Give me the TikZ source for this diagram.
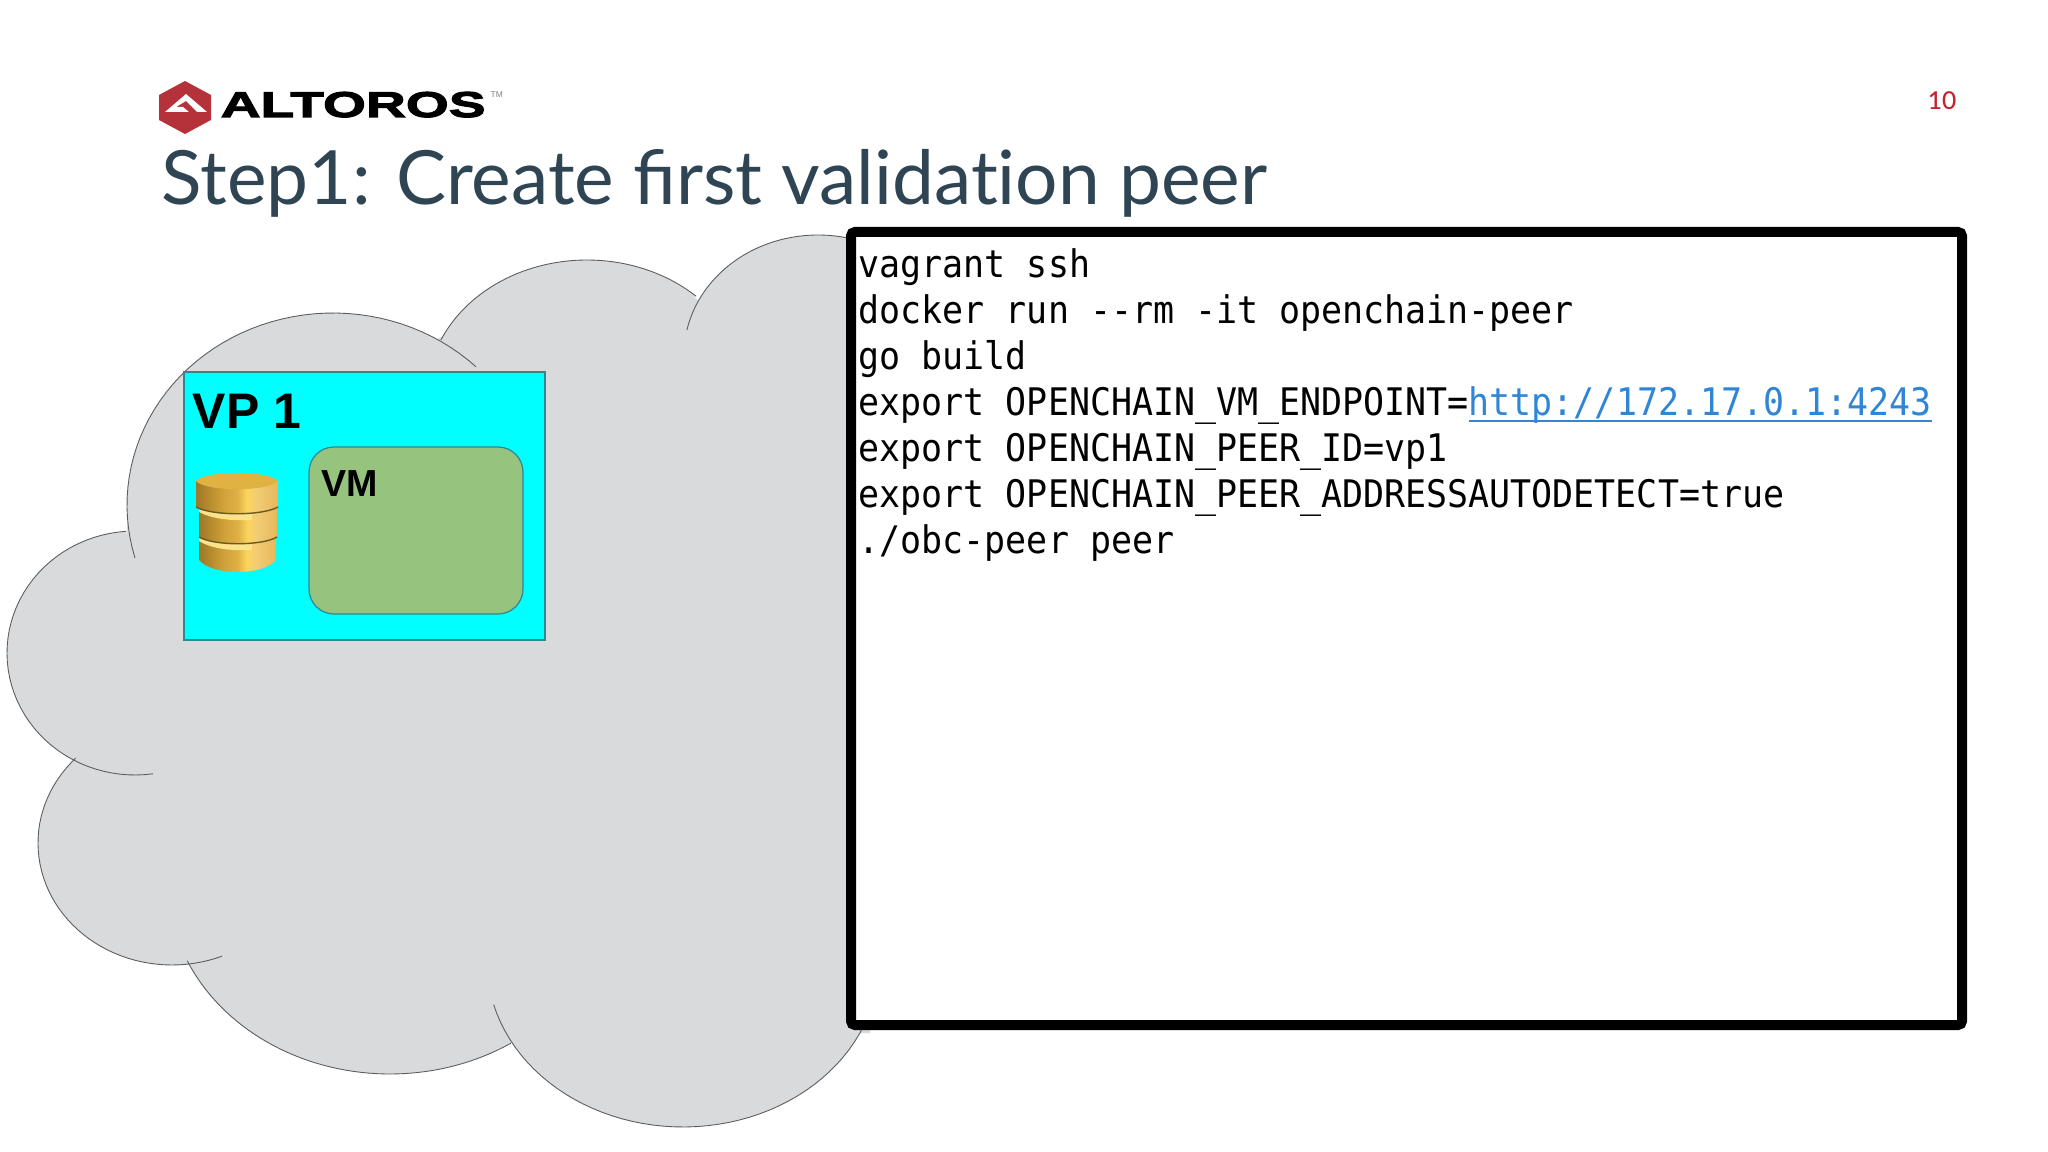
\documentclass[tikz,border=0pt]{standalone}
\usepackage{fontspec}
\usepackage{tikz}
\setmainfont{Liberation Sans}
\newfontfamily\titlefont{Lato}
\newfontfamily\pagefont{Lato Medium}
\newfontfamily\codefont[FakeStretch=0.92]{DejaVu Sans Mono}
\newfontfamily\logofont[FakeStretch=1.54,FakeBold=3]{Liberation Sans Bold}
\definecolor{cloudgray}{HTML}{D9DADB}
\definecolor{cloudedge}{HTML}{5A5C5E}
\definecolor{titleblue}{HTML}{2F4554}
\definecolor{logored}{HTML}{B5323A}
\definecolor{pagered}{HTML}{C8202F}
\definecolor{linkblue}{HTML}{2F86D6}
\definecolor{vpcyan}{HTML}{00FFFF}
\definecolor{vmgreen}{HTML}{96C47E}
\definecolor{boxedge}{HTML}{2E8793}
\definecolor{goldtop}{HTML}{E0B242}
\definecolor{goldlight}{HTML}{FBE38C}
\definecolor{goldline}{HTML}{6B5A20}
\pgfdeclarehorizontalshading{goldside}{100bp}{
	rgb(0bp)=(0.62,0.47,0.16);
	rgb(25bp)=(0.62,0.47,0.16);
	rgb(33bp)=(0.72,0.55,0.18);
	rgb(42bp)=(0.82,0.64,0.23);
	rgb(50bp)=(0.87,0.69,0.27);
	rgb(56bp)=(0.99,0.83,0.36);
	rgb(62bp)=(0.95,0.80,0.46);
	rgb(75bp)=(0.90,0.72,0.36);
	rgb(100bp)=(0.90,0.72,0.36)}
% centre x / centre y / radius x / radius y / first angle / last angle
\def\lobelist{818/355/134/120/192/290, 587/395/160/135/204/313, 333/505/206/192/314/164, 135/653/128/122/266/82, 172/843/134/122/224/68, 390/883/222/191/156/57, 683/962/196/165/165/10}
\tikzset{
	x=0.01cm, y=-0.01cm,
	codeline/.style={anchor=base west, inner sep=0pt, font=\codefont\fontsize{10.8pt}{12pt}\selectfont},
	goldtier/.style={shading=goldside}
}
\begin{document}
\begin{tikzpicture}
	\useasboundingbox (0,0) rectangle (2048,1152);
	\fill[white] (0,0) rectangle (2048,1152);
	% logo
	\fill[logored] (185,81) -- (211,95) -- (211,120) -- (185,134) -- (159,120) -- (159,95) -- cycle;
	\fill[white] (186,94) -- (207,112) -- (197,112) -- (186,101) -- (176,107) -- (183,107) -- (189,112) -- (165,112) -- cycle;
	\node[anchor=base west, inner sep=0pt, font=\logofont\fontsize{10.2pt}{12pt}\selectfont] (logotext) at (220,117) {ALTOROS};
	\node[anchor=base west, inner sep=0pt, font=\fontsize{2.4pt}{4pt}\selectfont, text=gray] (trademark) at (490,98) {TM};
	\node[anchor=base west, inner sep=0pt, font=\titlefont\fontsize{21.28pt}{24pt}\selectfont, text=titleblue] (title) at (161,205) {Step1: Create first validat\kern0pt ion peer};
	\node[anchor=base east, inner sep=0pt, font=\pagefont\fontsize{7pt}{9pt}\selectfont, text=pagered] (pagenum) at (1957,110) {10};
	% cloud
	\fill[cloudgray] (850,238) -- (699,301) -- (690,294) -- (580,280) -- (437,339) -- (127,505) -- (127,531) -- (75,757) -- (187,961) -- (390,1060) -- (514,1043) -- (870,1033) -- cycle;
	\foreach \cx/\cy/\rx/\ry/\ta/\tb in \lobelist {
		\fill[cloudgray] plot[domain=\ta:\tb, samples=50] ({\cx+\rx*cos(\x)},{\cy+\ry*sin(\x)});
	}
	\foreach \cx/\cy/\rx/\ry/\ta/\tb in \lobelist {
		\draw[cloudedge, line width=0.25pt] plot[domain=\ta:\tb, samples=50] ({\cx+\rx*cos(\x)},{\cy+\ry*sin(\x)});
	}
	% peer box
	\node[draw=boxedge, fill=vpcyan, line width=0.35pt, minimum width=361*0.01cm, minimum height=268*0.01cm, inner sep=0pt] (vpbox) at (364.5,506) {};
	\node[anchor=base west, inner sep=0pt, font=\bfseries\fontsize{14.2pt}{16pt}\selectfont] (vplabel) at (192,429) {VP 1};
	\node[draw=boxedge, fill=vmgreen, line width=0.35pt, rounded corners=0.25cm, minimum width=214*0.01cm, minimum height=167*0.01cm, inner sep=0pt] (vmbox) at (416,530.5) {};
	\node[anchor=base west, inner sep=0pt, font=\bfseries\fontsize{10.7pt}{12pt}\selectfont] (vmlabel) at (321,497) {VM};
	% database
	\shade[goldtier] (199,530) -- (199,560) .. controls (212,576) and (263,576) .. (276,560) -- (276,530) -- cycle;
	\fill[goldlight] (199,532) -- (199,541) .. controls (212,549) and (232,551) .. (252,550) -- (252,540) -- cycle;
	\shade[goldtier] (199,505) -- (199,537) .. controls (214,546) and (262,546) .. (277,537) -- (277,505) -- cycle;
	\draw[goldline, line width=0.4pt] (199,537) .. controls (214,546) and (262,546) .. (277,537);
	\fill[goldlight] (199,505) -- (199,512) .. controls (212,519) and (232,521) .. (252,520) -- (252,510) -- cycle;
	\shade[goldtier] (196,481) -- (196,507) .. controls (212,516) and (262,516) .. (278,507) -- (278,481) -- cycle;
	\draw[goldline, line width=0.4pt] (196,507) .. controls (212,516) and (262,516) .. (278,507);
	\fill[goldtop] (196,481) .. controls (206,470) and (268,470) .. (278,481) .. controls (268,492) and (206,492) .. (196,481) -- cycle;
	% command box
	\node[draw=black, fill=white, line width=10*0.2845pt, rounded corners=0.04cm, minimum width=1111*0.01cm, minimum height=793*0.01cm, inner sep=0pt] (cmdbox) at (1406.5,628.5) {};
	\node[codeline] (line1) at (858,278) {vagrant ssh};
	\node[codeline] (line2) at (858,324) {docker run --rm -it openchain-peer};
	\node[codeline] (line3) at (858,370) {go build};
	\node[codeline] (line4) at (858,416) {export OPENCHAIN\_VM\_ENDPOINT=\textcolor{linkblue}{\rlap{\rule[-1.8pt]{131.6pt}{0.7pt}}http://172.17.0.1:4243}};
	\node[codeline] (line5) at (858,462) {export OPENCHAIN\_PEER\_ID=vp1};
	\node[codeline] (line6) at (858,508) {export OPENCHAIN\_PEER\_ADDRESSAUTODETECT=true};
	\node[codeline] (line7) at (858,554) {./obc-peer peer};
\end{tikzpicture}
\end{document}
